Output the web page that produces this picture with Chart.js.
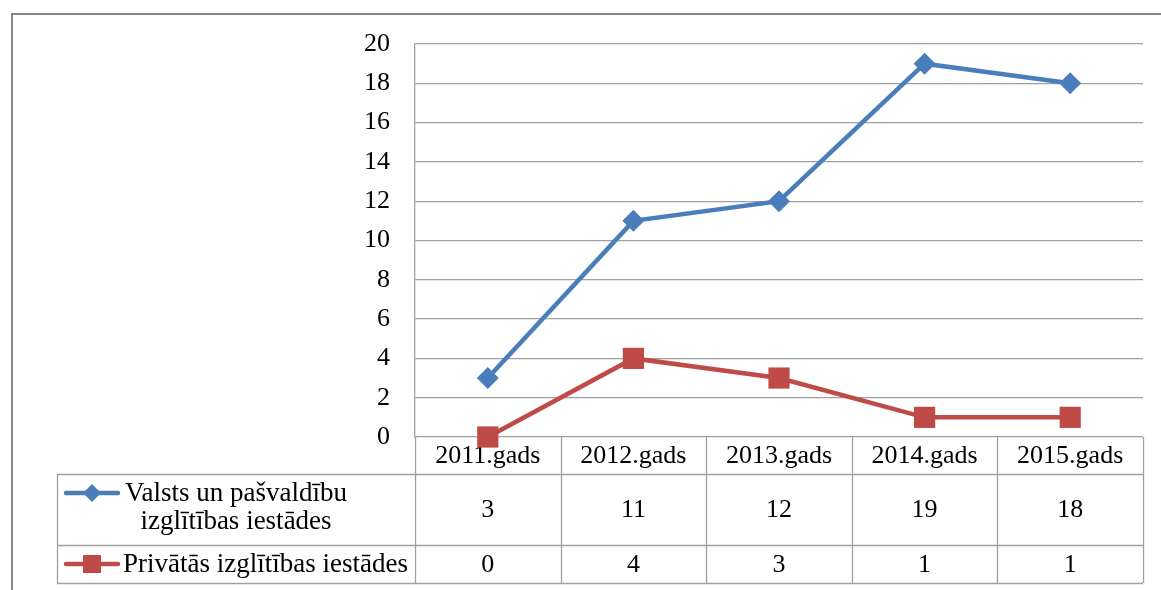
<!DOCTYPE html>
<html>
<head>
<meta charset="utf-8">
<script src="https://cdn.jsdelivr.net/npm/chart.js@4.4.0/dist/chart.umd.min.js"></script>
<style>
  html, body { margin: 0; padding: 0; background: #fff; }
  #wrap { position: relative; width: 1161px; height: 590px; }
  #probe { position: absolute; left: -9999px; font: 26px "Liberation Serif"; }
</style>
</head>
<body>
<div id="probe">Privātās 2011.gads</div>
<div id="wrap"><canvas id="chart1" width="1161" height="590"></canvas></div>
<script>
const categories = ['2011.gads', '2012.gads', '2013.gads', '2014.gads', '2015.gads'];
const valsts = [3, 11, 12, 19, 18];
const privatas = [0, 4, 3, 1, 1];
const valstsName = ['Valsts un pašvaldību', 'izglītības iestādes'];
const privatasName = ['Privātās izglītības iestādes'];
const yMin = 0, yMax = 20, yStep = 2;

const FAMILY = '"Liberation Serif", "Times New Roman", "DejaVu Serif", serif';
const FONT = '26px ' + FAMILY;
const LEGEND_FONT = '27px ' + FAMILY;
const GRID = '#a0a0a0';
const BLUE = '#4a7ebb';
const RED = '#be4b48';

// data table under the plot, laid out from the x scale
const dataTable = {
    id: 'dataTable',
    beforeDatasetsDraw(chart) {
        const ctx = chart.ctx;
        const x = chart.scales.x;
        const area = chart.chartArea;
        const left = 57, head = area.bottom, r1 = 474, r2 = 545, r3 = 583;
        const step = (area.right - area.left) / categories.length;

        ctx.save();
        ctx.strokeStyle = GRID;
        ctx.lineWidth = 1.3;
        ctx.beginPath();
        for (let i = 0; i <= categories.length; i++) {
            const bx = Math.round(area.left + i * step) + 0.5;
            ctx.moveTo(bx, head);
            ctx.lineTo(bx, r3);
        }
        [r1, r2, r3].forEach(y => {
            ctx.moveTo(left, y + 0.5);
            ctx.lineTo(area.right, y + 0.5);
        });
        ctx.moveTo(left + 0.5, r1);
        ctx.lineTo(left + 0.5, r3);
        ctx.stroke();

        ctx.fillStyle = '#000';
        ctx.font = FONT;
        ctx.textAlign = 'center';
        ctx.textBaseline = 'middle';
        categories.forEach((c, i) => {
            const cx = x.getPixelForValue(i);
            ctx.fillText(c, cx, (head + r1) / 2 + 1);
            ctx.fillText(String(valsts[i]), cx, (r1 + r2) / 2 + 1);
            ctx.fillText(String(privatas[i]), cx, (r2 + r3) / 2 + 1);
        });

        // legend keys
        const key = (y, color, style) => {
            ctx.strokeStyle = color;
            ctx.lineWidth = 4.5;
            ctx.lineCap = 'round';
            ctx.beginPath();
            ctx.moveTo(66, y);
            ctx.lineTo(118, y);
            ctx.stroke();
            ctx.fillStyle = color;
            if (style === 'diamond') {
                ctx.beginPath();
                ctx.moveTo(92 - 9, y);
                ctx.lineTo(92, y - 9);
                ctx.lineTo(92 + 9, y);
                ctx.lineTo(92, y + 9);
                ctx.closePath();
                ctx.fill();
            } else {
                ctx.fillRect(92 - 9, y - 9, 18, 18);
            }
        };
        key(493, BLUE, 'diamond');
        key(564, RED, 'square');

        ctx.fillStyle = '#000';
        ctx.font = LEGEND_FONT;
        ctx.textAlign = 'center';
        ctx.fillText(valstsName[0], 236, 494);
        ctx.fillText(valstsName[1], 236, 522);
        ctx.textAlign = 'left';
        ctx.fillText(privatasName[0], 123, 565);
        ctx.restore();
    }
};

const outerBorder = {
    id: 'outerBorder',
    afterDraw(chart) {
        const ctx = chart.ctx;
        ctx.save();
        ctx.strokeStyle = '#878787';
        ctx.lineWidth = 2;
        ctx.beginPath();
        ctx.moveTo(12, 600);
        ctx.lineTo(12, 14);
        ctx.lineTo(1170, 14);
        ctx.stroke();
        ctx.restore();
    }
};

function draw() {
    new Chart(document.getElementById('chart1').getContext('2d'), {
        type: 'line',
        data: {
            labels: categories,
            datasets: [{
                label: valstsName.join(' '),
                data: valsts,
                borderColor: BLUE,
                backgroundColor: BLUE,
                borderWidth: 4.5,
                pointStyle: 'rectRot',
                pointRadius: 11,
                pointBorderWidth: 0,
                clip: false
            }, {
                label: privatasName[0],
                data: privatas,
                borderColor: RED,
                backgroundColor: RED,
                borderWidth: 4.5,
                pointStyle: 'rect',
                pointRadius: 15,
                pointBorderWidth: 0,
                clip: false
            }]
        },
        options: {
            responsive: false,
            animation: false,
            layout: { padding: { left: 0, right: 18, top: 44, bottom: 153 } },
            plugins: {
                legend: { display: false },
                tooltip: { enabled: false }
            },
            scales: {
                x: { display: false, offset: true },
                y: {
                    min: yMin,
                    max: yMax,
                    afterFit(scale) { scale.width = 415; },
                    ticks: {
                        stepSize: yStep,
                        padding: 25,
                        color: '#000',
                        font: { family: FAMILY, size: 26 }
                    },
                    grid: { color: GRID, lineWidth: 1.3, drawTicks: false },
                    border: { color: GRID, width: 1.3 }
                }
            }
        },
        plugins: [dataTable, outerBorder]
    });
}

document.fonts.load(FONT).then(draw, draw);
</script>
</body>
</html>
